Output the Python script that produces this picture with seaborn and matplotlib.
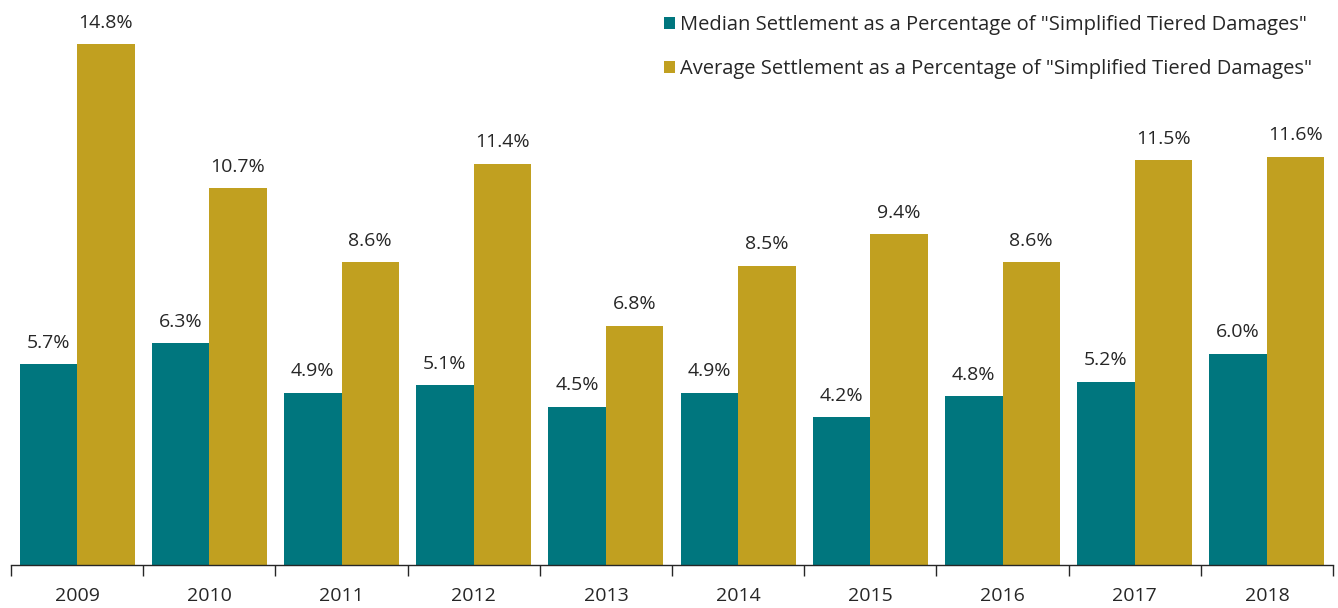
import pandas as pd
import numpy as np
import matplotlib.pyplot as plt
import seaborn as sns

# chart values
years = ["2009", "2010", "2011", "2012", "2013", "2014", "2015", "2016", "2017", "2018"]
median_pct = [5.7, 6.3, 4.9, 5.1, 4.5, 4.9, 4.2, 4.8, 5.2, 6.0]
average_pct = [14.8, 10.7, 8.6, 11.4, 6.8, 8.5, 9.4, 8.6, 11.5, 11.6]
series_names = ['Median Settlement as a Percentage of "Simplified Tiered Damages"',
                'Average Settlement as a Percentage of "Simplified Tiered Damages"']
colors = ["#00767E", "#C1A020"]

df = pd.DataFrame({
    "year": years * 2,
    "value": median_pct + average_pct,
    "series": [series_names[0]] * len(years) + [series_names[1]] * len(years),
})

sns.set_style("white")
plt.rcParams['font.family'] = ['Open Sans', 'DejaVu Sans']

fig = plt.figure(figsize=(13.38, 6.08), dpi=100)
ax = fig.add_axes([11 / 1338, 43 / 608, 1322 / 1338, 565 / 608])

sns.barplot(data=df, x="year", y="value", hue="series", palette=colors,
            width=0.87, gap=0, saturation=1, linewidth=0, ax=ax)

for cont in ax.containers:
    ax.bar_label(cont, labels=[f"{v:.1f}%" for v in cont.datavalues],
                 padding=9, fontsize=14, color="#262626")

ax.set_ylim(0, 16.05)
ax.set_xlim(-0.5, len(years) - 0.5)
ax.set_xlabel("")
ax.set_ylabel("")
ax.set_yticks([])

# category boundary ticks
ax.set_xticks(np.arange(-0.5, len(years), 1.0), minor=True)
ax.tick_params(axis="x", which="minor", bottom=True, length=8, width=1,
               color="#262626", direction="out")
ax.tick_params(axis="x", which="major", bottom=True, length=0, labelsize=14,
               labelcolor="#262626", pad=16)

for s in ["top", "right", "left"]:
    ax.spines[s].set_visible(False)
ax.spines["bottom"].set_color("#262626")
ax.spines["bottom"].set_linewidth(1)

ax.legend(loc="upper right", bbox_to_anchor=(0.998, 1.006), frameon=False,
          fontsize=14.5, handlelength=0.55, handleheight=0.55, handletextpad=0.25,
          labelspacing=1.2, labelcolor="#262626")

fig.savefig("out.png", dpi=100)
